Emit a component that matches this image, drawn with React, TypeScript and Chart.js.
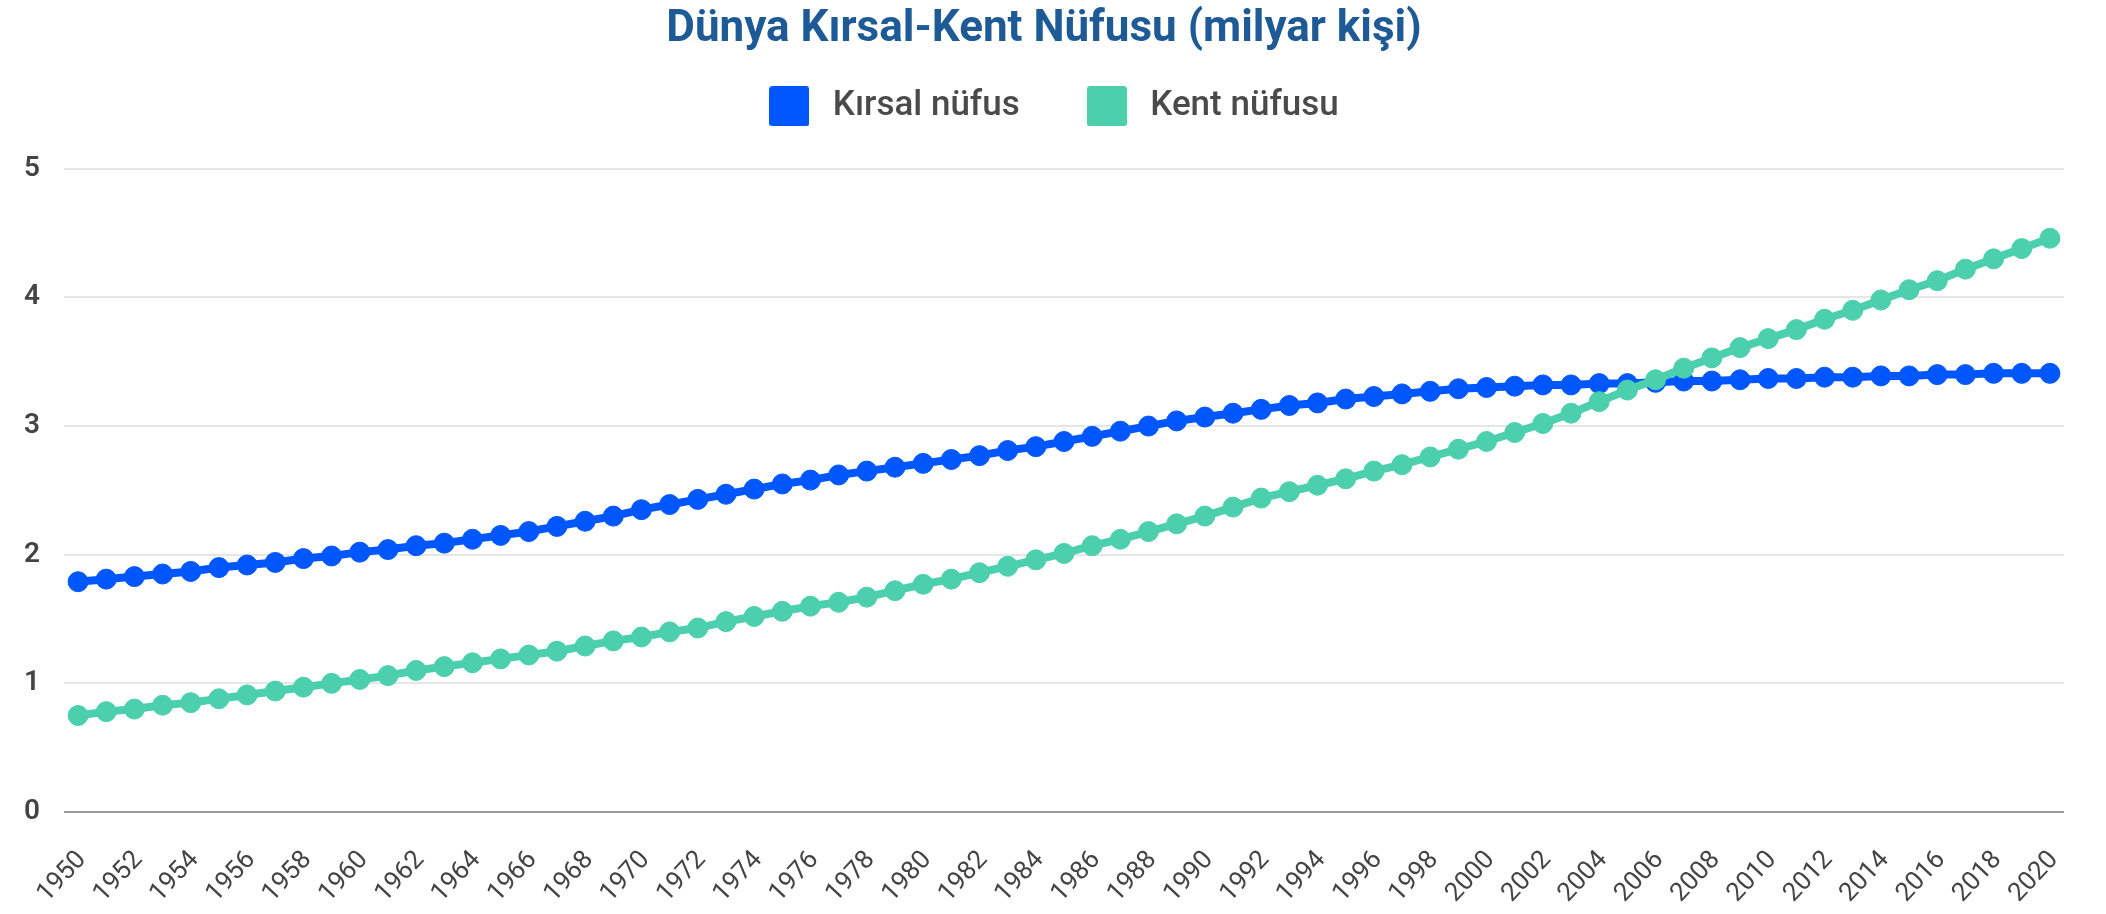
import React, { useEffect, useRef } from 'react';
import { Chart, registerables } from 'chart.js';

Chart.register(...registerables);

const years = [
  '1950', '1951', '1952', '1953', '1954', '1955', '1956', '1957', '1958', '1959',
  '1960', '1961', '1962', '1963', '1964', '1965', '1966', '1967', '1968', '1969',
  '1970', '1971', '1972', '1973', '1974', '1975', '1976', '1977', '1978', '1979',
  '1980', '1981', '1982', '1983', '1984', '1985', '1986', '1987', '1988', '1989',
  '1990', '1991', '1992', '1993', '1994', '1995', '1996', '1997', '1998', '1999',
  '2000', '2001', '2002', '2003', '2004', '2005', '2006', '2007', '2008', '2009',
  '2010', '2011', '2012', '2013', '2014', '2015', '2016', '2017', '2018', '2019',
  '2020',
];

const rural = [
  1.79, 1.81, 1.83, 1.85, 1.87, 1.90, 1.92, 1.94, 1.97, 1.99,
  2.02, 2.04, 2.07, 2.09, 2.12, 2.15, 2.18, 2.22, 2.26, 2.30,
  2.35, 2.39, 2.43, 2.47, 2.51, 2.55, 2.58, 2.62, 2.65, 2.68,
  2.71, 2.74, 2.77, 2.81, 2.84, 2.88, 2.92, 2.96, 3.00, 3.04,
  3.07, 3.10, 3.13, 3.16, 3.18, 3.21, 3.23, 3.25, 3.27, 3.29,
  3.30, 3.31, 3.32, 3.32, 3.33, 3.33, 3.34, 3.35, 3.35, 3.36,
  3.37, 3.37, 3.38, 3.38, 3.39, 3.39, 3.40, 3.40, 3.41, 3.41,
  3.41,
];

const urban = [
  0.75, 0.78, 0.80, 0.83, 0.85, 0.88, 0.91, 0.94, 0.97, 1.00,
  1.03, 1.06, 1.10, 1.13, 1.16, 1.19, 1.22, 1.25, 1.29, 1.33,
  1.36, 1.40, 1.43, 1.48, 1.52, 1.56, 1.60, 1.63, 1.67, 1.72,
  1.77, 1.81, 1.86, 1.91, 1.96, 2.01, 2.07, 2.12, 2.18, 2.24,
  2.30, 2.37, 2.44, 2.49, 2.54, 2.59, 2.65, 2.70, 2.76, 2.82,
  2.88, 2.95, 3.02, 3.10, 3.19, 3.28, 3.36, 3.45, 3.53, 3.61,
  3.68, 3.75, 3.83, 3.90, 3.98, 4.06, 4.13, 4.22, 4.30, 4.38,
  4.46,
];

const yTicks = [0, 1, 2, 3, 4, 5];

const titleText = 'Dünya Kırsal-Kent Nüfusu (milyar kişi)';
const ruralLabel = 'Kırsal nüfus';
const urbanLabel = 'Kent nüfusu';

const BLUE = '#0057ff';
const GREEN = '#4bcfad';
const FONT = 'Roboto, "Noto Sans", sans-serif';

const legendMargin = {
  id: 'legendMargin',
  beforeInit(chart: any) {
    const origFit = chart.legend.fit;
    chart.legend.fit = function fit() {
      origFit.bind(chart.legend)();
      this.height += 35;
    };
  },
  afterLayout(chart: any) {
    if (chart.titleBlock) {
      chart.titleBlock.left += 10;
      chart.titleBlock.right += 10;
    }
    if (chart.legend) {
      chart.legend.left += 17;
      chart.legend.right += 17;
    }
  },
};

function makeBox(color: string): HTMLCanvasElement {
  const c = document.createElement('canvas');
  c.width = 40;
  c.height = 40;
  const g = c.getContext('2d');
  if (g) {
    g.fillStyle = color;
    g.beginPath();
    if ((g as any).roundRect) {
      (g as any).roundRect(0, 0, 40, 40, 3);
    } else {
      g.rect(0, 0, 40, 40);
    }
    g.fill();
  }
  return c;
}

export default function App() {
  const canvasRef = useRef<HTMLCanvasElement | null>(null);

  useEffect(() => {
    if (!canvasRef.current) return;
    const boxes = [makeBox(BLUE), makeBox(GREEN)];
    const chart = new Chart(canvasRef.current, {
      type: 'line',
      data: {
        labels: years,
        datasets: [
          {
            label: ruralLabel,
            data: rural,
            borderColor: BLUE,
            backgroundColor: BLUE,
            borderWidth: 8,
            pointRadius: 10,
            pointBorderWidth: 1,
            pointBackgroundColor: BLUE,
            pointBorderColor: BLUE,
            tension: 0,
            order: 1,
          },
          {
            label: urbanLabel,
            data: urban,
            borderColor: GREEN,
            backgroundColor: GREEN,
            borderWidth: 8,
            pointRadius: 10,
            pointBorderWidth: 1,
            pointBackgroundColor: GREEN,
            pointBorderColor: GREEN,
            tension: 0,
            order: 0,
          },
        ],
      },
      options: {
        responsive: true,
        maintainAspectRatio: false,
        animation: false,
        layout: { autoPadding: false, padding: { left: 0, right: 38, top: 0, bottom: -28 } },
        plugins: {
          title: {
            display: true,
            text: titleText,
            color: '#1d5a96',
            font: { family: FONT, size: 44, weight: 'bold' },
            padding: { top: 4, bottom: -29 },
          },
          legend: {
            display: true,
            position: 'top',
            labels: {
              color: '#4a4a4a',
              font: { family: FONT, size: 35, weight: '500' },
              usePointStyle: true,
              pointStyleWidth: 52,
              padding: 61,
              sort: (a: any, b: any) => a.datasetIndex - b.datasetIndex,
              generateLabels: (c: any) =>
                (Chart.defaults.plugins.legend.labels as any)
                  .generateLabels(c)
                  .map((l: any) => ({ ...l, lineWidth: 0, pointStyle: boxes[l.datasetIndex] })),
            },
          },
          tooltip: { enabled: false },
        },
        scales: {
          x: {
            offset: true,
            grid: { display: false, drawTicks: false },
            border: { display: false },
            ticks: {
              autoSkip: false,
              maxRotation: 47,
              minRotation: 47,
              padding: 33,
              labelOffset: 4,
              color: '#444',
              font: { family: FONT, size: 26 },
              callback: (_v: any, i: number) => (i % 2 === 0 ? years[i] : ''),
            },
          },
          y: {
            min: yTicks[0],
            max: yTicks[yTicks.length - 1],
            afterBuildTicks: (axis: any) => {
              axis.ticks = yTicks.map((v) => ({ value: v }));
            },
            grid: {
              drawTicks: false,
              lineWidth: 2,
              color: (ctx: any) => (ctx.tick && ctx.tick.value === 0 ? '#9a9a9a' : '#e6e6e6'),
            },
            border: { display: false },
            ticks: {
              padding: 24,
              color: '#444',
              font: { family: FONT, size: 28, weight: '600' },
            },
          },
        },
      },
      plugins: [legendMargin],
    });
    return () => chart.destroy();
  }, []);

  return (
    <div style={{ position: 'fixed', left: 0, top: 0, width: 2106, height: 914, background: '#fff' }}>
      <canvas ref={canvasRef} />
    </div>
  );
}
